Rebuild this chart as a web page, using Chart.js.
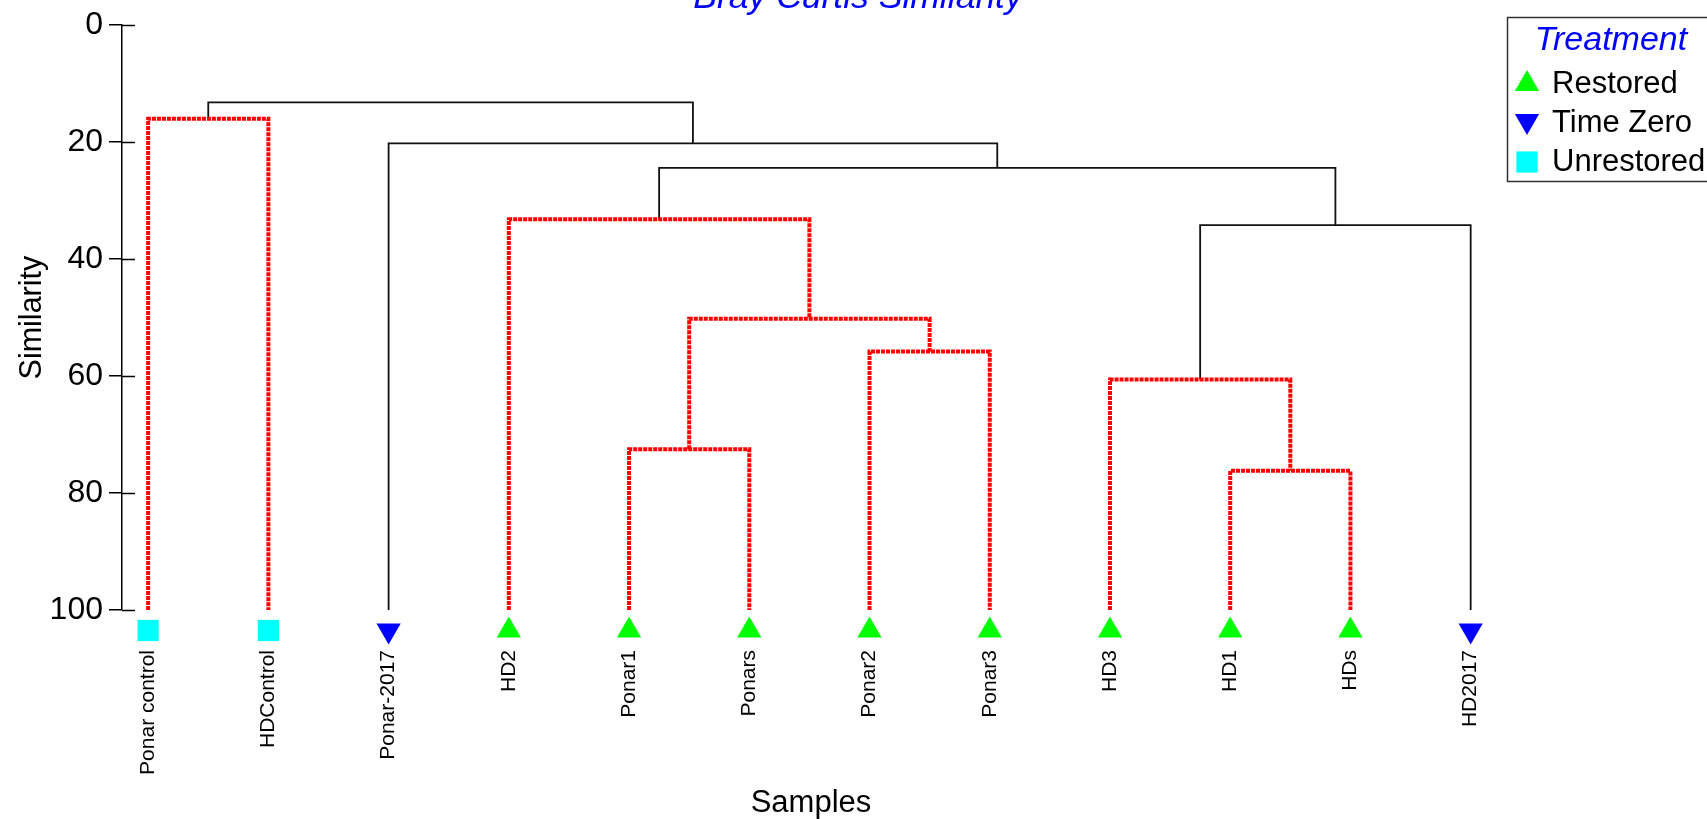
<!DOCTYPE html>
<html>
<head>
<meta charset="utf-8">
<title>Bray Curtis Similarity</title>
<script src="https://cdn.jsdelivr.net/npm/chart.js@4.4.1/dist/chart.umd.min.js"></script>
<style>
    html, body { margin: 0; padding: 0; background: #fff; }
</style>
</head>
<body>
<canvas id="dendroChart" width="1707" height="819"></canvas>
<script>
// leaves of the dendrogram, left to right
const samples = ['Ponar control', 'HDControl', 'Ponar-2017', 'HD2', 'Ponar1', 'Ponars',
                 'Ponar2', 'Ponar3', 'HD3', 'HD1', 'HDs', 'HD2017'];
const treatments = ['Unrestored', 'Unrestored', 'Time Zero', 'Restored', 'Restored', 'Restored',
                    'Restored', 'Restored', 'Restored', 'Restored', 'Restored', 'Time Zero'];
// merges: [child A, child B, similarity, significant group]
// leaves are 0..11, every merge makes a new node numbered 12, 13, ...
const merges = [
    [4, 5, 72.5, true],     // 12 Ponar1 + Ponars
    [9, 10, 76.2, true],    // 13 HD1 + HDs
    [6, 7, 55.8, true],     // 14 Ponar2 + Ponar3
    [12, 14, 50.2, true],   // 15
    [8, 13, 60.6, true],    // 16 HD3 + (HD1, HDs)
    [3, 15, 33.2, true],    // 17 HD2 + ponar group
    [16, 11, 34.2, false],  // 18 + HD2017
    [0, 1, 16.0, true],     // 19 controls
    [17, 18, 24.4, false],  // 20
    [2, 20, 20.2, false],   // 21 + Ponar-2017
    [19, 21, 13.2, false]   // 22 root
];
const similarityTicks = [0, 20, 40, 60, 80, 100];
const legendOrder = ['Restored', 'Time Zero', 'Unrestored'];

const FONT = 'Liberation Sans, Arial, Helvetica, sans-serif';
const treatmentStyle = {
    'Restored':   { color: '#00ff00', pointStyle: 'triangle', rotation: 0, radius: 14 },
    'Time Zero':  { color: '#0000ff', pointStyle: 'triangle', rotation: 180, radius: 14 },
    'Unrestored': { color: '#00ffff', pointStyle: 'rect', rotation: 0, radius: 15 }
};
const markerLevel = 103.5; // symbols sit just under the 100 line

// build the branch paths from the merge table
const nodeX = samples.map((s, i) => i);
const nodeH = samples.map(() => 100);
const branchSets = merges.map(function ([a, b, h, sig]) {
    const ds = {
        type: 'scatter',
        showLine: true,
        data: [
            { x: nodeX[a], y: nodeH[a] },
            { x: nodeX[a], y: h },
            { x: nodeX[b], y: h },
            { x: nodeX[b], y: nodeH[b] }
        ],
        borderColor: sig ? '#ff0000' : '#111111',
        borderWidth: sig ? 4 : 1.8,
        borderDash: sig ? [4, 1] : [],
        pointRadius: 0,
        tension: 0,
        clip: false
    };
    nodeX.push((nodeX[a] + nodeX[b]) / 2);
    nodeH.push(h);
    return ds;
});

const markerSets = legendOrder.map(function (t) {
    const st = treatmentStyle[t];
    return {
        type: 'scatter',
        label: t,
        isMarker: true,
        data: samples.map((s, i) => i).filter(i => treatments[i] === t).map(i => ({ x: i, y: markerLevel })),
        pointStyle: st.pointStyle,
        rotation: st.rotation,
        pointRadius: st.radius,
        pointBackgroundColor: st.color,
        pointBorderColor: st.color,
        pointBorderWidth: 0,
        clip: false
    };
});

// the leaf symbols lie under the plot area, where Chart.js skips points,
// so draw them here at the positions the scales gave them
const leafSymbols = {
    id: 'leafSymbols',
    afterDatasetsDraw(chart) {
        const ctx = chart.ctx;
        ctx.save();
        chart.data.datasets.forEach(function (ds, i) {
            if (!ds.isMarker) return;
            chart.getDatasetMeta(i).data.forEach(function (pt) {
                const o = pt.options;
                ctx.fillStyle = o.backgroundColor;
                ctx.strokeStyle = o.borderColor;
                ctx.lineWidth = 0;
                Chart.helpers.drawPoint(ctx, o, pt.x, pt.y);
            });
        });
        ctx.restore();
    }
};

// inner half of the y ticks (they cross the axis line)
const innerTicks = {
    id: 'innerTicks',
    afterDraw(chart) {
        const ctx = chart.ctx, y = chart.scales.y, left = chart.chartArea.left;
        ctx.save();
        ctx.strokeStyle = '#000';
        ctx.lineWidth = 1.5;
        y.ticks.forEach(t => {
            const py = Math.round(y.getPixelForValue(t.value)) + 0.5;
            ctx.beginPath();
            ctx.moveTo(left, py);
            ctx.lineTo(left + 13, py);
            ctx.stroke();
        });
        ctx.restore();
    }
};

function drawSymbol(ctx, style, x, y) {
    ctx.fillStyle = style.color;
    ctx.beginPath();
    const r = style.radius;
    if (style.pointStyle === 'rect') {
        const s = r * Math.SQRT1_2;
        ctx.rect(x - s, y - s, 2 * s, 2 * s);
    } else {
        const dir = style.rotation === 180 ? -1 : 1;
        ctx.moveTo(x, y - dir * r);
        ctx.lineTo(x + r * 0.866, y + dir * r / 2);
        ctx.lineTo(x - r * 0.866, y + dir * r / 2);
        ctx.closePath();
    }
    ctx.fill();
}

// title (partly cut by the top edge) and the treatment legend box
const titleAndLegend = {
    id: 'titleAndLegend',
    afterDraw(chart) {
        const ctx = chart.ctx;
        ctx.save();
        ctx.fillStyle = '#0000ff';
        ctx.font = 'italic 35.5px ' + FONT;
        ctx.textAlign = 'center';
        ctx.textBaseline = 'alphabetic';
        ctx.fillText('Bray Curtis Similarity', 858, 8);

        ctx.fillStyle = '#fff';
        ctx.fillRect(1507, 17, 210, 164);
        ctx.strokeStyle = '#333';
        ctx.lineWidth = 1.5;
        ctx.strokeRect(1507.5, 17.5, 210, 164);

        ctx.fillStyle = '#0000ff';
        ctx.font = 'italic 34px ' + FONT;
        ctx.fillText('Treatment', 1611, 50);

        ctx.textAlign = 'left';
        ctx.font = '31px ' + FONT;
        legendOrder.forEach(function (t, i) {
            const st = treatmentStyle[t];
            const yc = 84 + i * 39;
            drawSymbol(ctx, st, 1527, st.rotation === 180 ? yc - 2 : yc);
            ctx.fillStyle = '#000';
            ctx.fillText(t, 1552, 93 + i * 39);
        });
        ctx.restore();
    }
};

document.addEventListener('DOMContentLoaded', function () {
    const ctx = document.getElementById('dendroChart').getContext('2d');
    Chart.defaults.font.family = FONT;
    Chart.defaults.color = '#000';

    new Chart(ctx, {
        type: 'scatter',
        data: { datasets: branchSets.concat(markerSets) },
        options: {
            responsive: false,
            animation: false,
            layout: { padding: { top: 23.3, right: 207, bottom: 0, left: 0 } },
            plugins: {
                legend: { display: false },
                tooltip: { enabled: false }
            },
            scales: {
                x: {
                    type: 'linear',
                    min: -0.2175,
                    max: 11.244,
                    afterBuildTicks: function (scale) {
                        scale.ticks = samples.map((s, i) => ({ value: i }));
                    },
                    afterFit: function (scale) { scale.height = 209; },
                    border: { display: false },
                    grid: { display: false, drawTicks: false },
                    ticks: {
                        autoSkip: false,
                        maxRotation: 90,
                        minRotation: 90,
                        padding: 40,
                        font: { size: 21 },
                        callback: function (value) { return samples[value]; }
                    },
                    title: {
                        display: true,
                        text: 'Samples',
                        font: { size: 31, lineHeight: 1 },
                        padding: { top: 0, bottom: 0 }
                    }
                },
                y: {
                    type: 'linear',
                    reverse: true,
                    min: 0,
                    max: 100,
                    afterBuildTicks: function (scale) {
                        scale.ticks = similarityTicks.map(v => ({ value: v }));
                    },
                    afterFit: function (scale) { scale.width = 122; },
                    border: { display: true, color: '#000', width: 1.5 },
                    grid: {
                        drawOnChartArea: false,
                        drawTicks: true,
                        tickLength: 13,
                        color: '#000',
                        lineWidth: 1.5
                    },
                    ticks: {
                        padding: 6,
                        font: { size: 32 }
                    },
                    title: {
                        display: true,
                        text: 'Similarity',
                        font: { size: 30.5 },
                        padding: { top: 14, bottom: 0 }
                    }
                }
            }
        },
        plugins: [leafSymbols, innerTicks, titleAndLegend]
    });
});
</script>
</body>
</html>
